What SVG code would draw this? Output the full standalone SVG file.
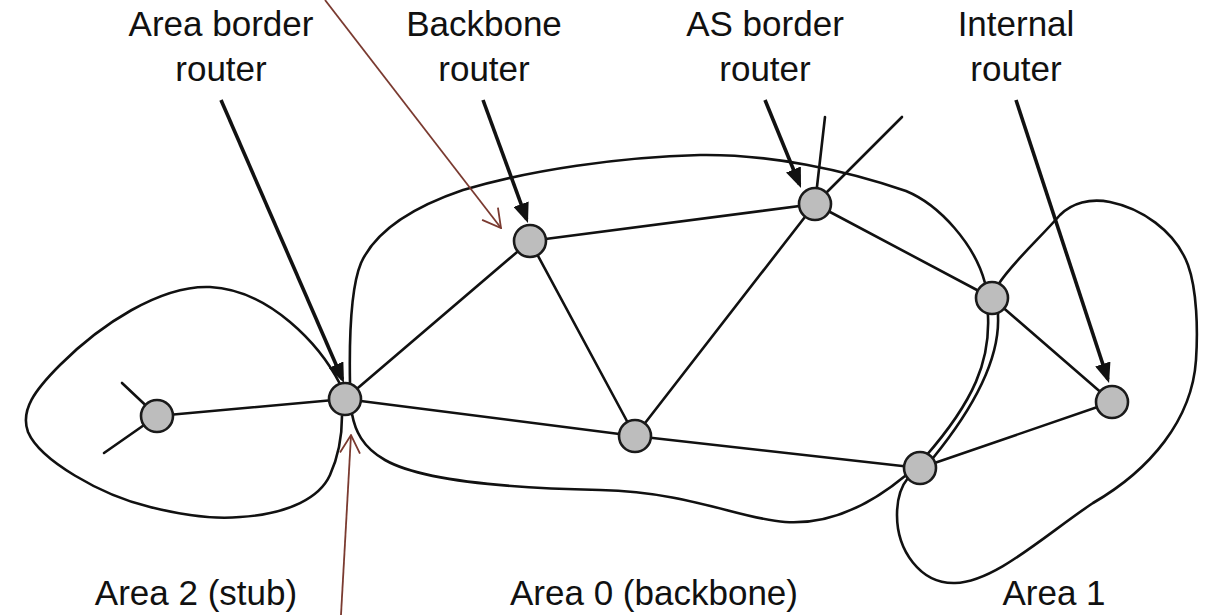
<svg xmlns="http://www.w3.org/2000/svg" width="1205" height="615" viewBox="0 0 1205 615">
  <style>
    .label { font-family: "Liberation Sans", Arial, sans-serif; font-size: 35px; fill: #111; text-anchor: middle; }
    .area { fill: none; stroke: #111; stroke-width: 2.6; stroke-linejoin: round; }
    .edge { stroke: #111; stroke-width: 2.6; stroke-linecap: round; fill: none; }
    .pointer { stroke: #111; stroke-width: 3.6; fill: none; }
    .note { stroke: #7a3a30; stroke-width: 1.8; fill: none; }
    .router { fill: #bdbdbd; stroke: #1a1a1a; stroke-width: 2.6; }
  </style>
  <defs>
    <marker id="head" viewBox="0 0 20 16" refX="16" refY="8" markerWidth="20" markerHeight="16" orient="auto" markerUnits="userSpaceOnUse">
      <path d="M0,0 L20,8 L0,16 Z" fill="#111"/>
    </marker>
    <marker id="open" viewBox="0 0 20 24" refX="19" refY="12" markerWidth="20" markerHeight="24" orient="auto" markerUnits="userSpaceOnUse">
      <path d="M1,2 L19,12 L1,22" fill="none" stroke="#7a3a30" stroke-width="1.8"/>
    </marker>
  </defs>

  <rect width="1205" height="615" fill="#ffffff"/>

  <!-- area outlines -->
  <g id="areas">
    <path id="area2" class="area" d="M 340,384 C 320,345 270,290 210,287 C 160,285 100,325 60,365 C 35,390 20,410 28,432 C 40,460 100,495 150,507 C 190,517 220,519 240,517 C 290,514 320,497 330,475 C 339,455 342,435 342,416"/>
    <path id="area0" class="area" d="M 350,384 C 349,330 351,287 361,263 C 375,232 410,208 463,190 C 530,170 620,157 700,155 C 770,154 845,170 906,191 C 940,205 975,245 985,283 L 988,316 C 990,360 975,400 925,457 L 905,476 C 870,505 830,525 785,522 C 740,519 690,492 600,490 C 500,488 420,480 385,460 C 362,447 355,430 352,414 Z"/>
    <path id="area1" class="area" d="M 998,285 C 1010,265 1040,238 1060,215 C 1072,203 1090,198 1110,202 C 1140,208 1175,230 1188,265 C 1197,290 1198,330 1196,360 C 1192,420 1150,470 1093,503 C 1045,535 995,582 955,583 C 920,584 897,550 897,515 C 897,495 903,484 908,478 L 933,458 C 972,410 1000,360 998,316 Z"/>
  </g>

  <!-- links between routers -->
  <g id="connectors">
    <line class="edge" x1="157" y1="416" x2="345" y2="399"/>
    <line class="edge" x1="122" y1="383" x2="157" y2="416"/>
    <line class="edge" x1="104" y1="453" x2="157" y2="416"/>
    <line class="edge" x1="345" y1="399" x2="530" y2="241"/>
    <line class="edge" x1="345" y1="399" x2="635" y2="436"/>
    <line class="edge" x1="530" y1="241" x2="815" y2="204"/>
    <line class="edge" x1="530" y1="241" x2="635" y2="436"/>
    <line class="edge" x1="815" y1="204" x2="635" y2="436"/>
    <line class="edge" x1="815" y1="204" x2="992" y2="298"/>
    <line class="edge" x1="815" y1="204" x2="825" y2="117"/>
    <line class="edge" x1="815" y1="204" x2="902" y2="117"/>
    <line class="edge" x1="992" y1="298" x2="1112" y2="402"/>
    <line class="edge" x1="635" y1="436" x2="920" y2="468"/>
    <line class="edge" x1="920" y1="468" x2="1112" y2="402"/>
  </g>

  <!-- routers -->
  <g id="r-stub"><circle class="router" cx="157" cy="416" r="16"/></g>
  <g id="r-abr2"><circle class="router" cx="345" cy="399" r="16"/></g>
  <g id="r-backbone"><circle class="router" cx="530" cy="241" r="16"/></g>
  <g id="r-asbr"><circle class="router" cx="815" cy="204" r="16"/></g>
  <g id="r-abr1top"><circle class="router" cx="992" cy="298" r="16"/></g>
  <g id="r-mid"><circle class="router" cx="635" cy="436" r="16"/></g>
  <g id="r-abr1bottom"><circle class="router" cx="920" cy="468" r="16"/></g>
  <g id="r-internal"><circle class="router" cx="1112" cy="402" r="16"/></g>

  <!-- role pointers -->
  <g id="pointers">
    <line class="pointer" x1="221" y1="100" x2="342.4" y2="379.3" marker-end="url(#head)"/>
    <line class="pointer" x1="483" y1="100" x2="526.6" y2="219.2" marker-end="url(#head)"/>
    <line class="pointer" x1="765" y1="100" x2="799.5" y2="184.3" marker-end="url(#head)"/>
    <line class="pointer" x1="1016" y1="100" x2="1107.8" y2="379.2" marker-end="url(#head)"/>
    <line class="note" x1="325" y1="0" x2="501" y2="228" marker-end="url(#open)"/>
    <line class="note" x1="341" y1="615" x2="351" y2="435" marker-end="url(#open)"/>
  </g>

  <!-- labels -->
  <g id="labels">
    <text class="label" x="221" y="36">Area border</text>
    <text class="label" x="221" y="81">router</text>
    <text class="label" x="484" y="36">Backbone</text>
    <text class="label" x="484" y="81">router</text>
    <text class="label" x="765" y="36">AS border</text>
    <text class="label" x="765" y="81">router</text>
    <text class="label" x="1016" y="36">Internal</text>
    <text class="label" x="1016" y="81">router</text>
    <text class="label" x="196" y="605">Area 2 (stub)</text>
    <text class="label" x="654" y="605">Area 0 (backbone)</text>
    <text class="label" x="1054" y="605">Area 1</text>
  </g>
</svg>
